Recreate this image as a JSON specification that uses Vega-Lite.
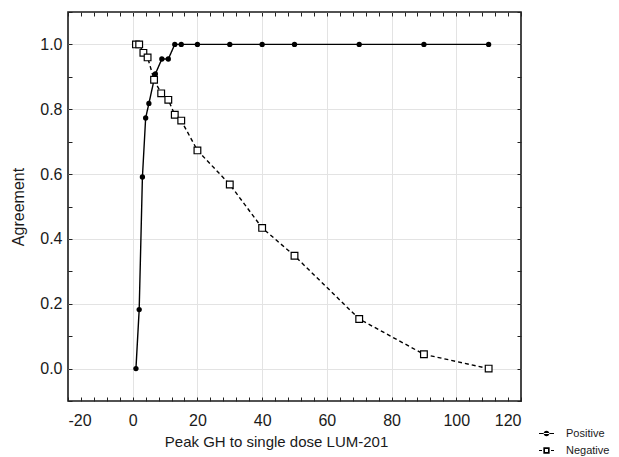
{
  "$schema": "https://vega.github.io/schema/vega-lite/v6.json",
  "width": 453,
  "height": 389,
  "autosize": {"type": "none"},
  "padding": {"left": 68, "top": 12, "right": 98, "bottom": 56},
  "background": "white",
  "data": {
    "values": [
      {"series": "Positive", "x": 1, "y": 0.0},
      {"series": "Positive", "x": 2, "y": 0.182},
      {"series": "Positive", "x": 3, "y": 0.591},
      {"series": "Positive", "x": 4, "y": 0.773},
      {"series": "Positive", "x": 5, "y": 0.818},
      {"series": "Positive", "x": 7, "y": 0.909},
      {"series": "Positive", "x": 9, "y": 0.955},
      {"series": "Positive", "x": 11, "y": 0.955},
      {"series": "Positive", "x": 13, "y": 1.0},
      {"series": "Positive", "x": 15, "y": 1.0},
      {"series": "Positive", "x": 20, "y": 1.0},
      {"series": "Positive", "x": 30, "y": 1.0},
      {"series": "Positive", "x": 40, "y": 1.0},
      {"series": "Positive", "x": 50, "y": 1.0},
      {"series": "Positive", "x": 70, "y": 1.0},
      {"series": "Positive", "x": 90, "y": 1.0},
      {"series": "Positive", "x": 110, "y": 1.0},
      {"series": "Negative", "x": 1, "y": 1.0},
      {"series": "Negative", "x": 2, "y": 1.0},
      {"series": "Negative", "x": 3.3, "y": 0.974},
      {"series": "Negative", "x": 4.6, "y": 0.96},
      {"series": "Negative", "x": 6.6, "y": 0.891},
      {"series": "Negative", "x": 8.8, "y": 0.849},
      {"series": "Negative", "x": 11, "y": 0.829},
      {"series": "Negative", "x": 13, "y": 0.783},
      {"series": "Negative", "x": 15, "y": 0.765},
      {"series": "Negative", "x": 20, "y": 0.673},
      {"series": "Negative", "x": 30, "y": 0.568},
      {"series": "Negative", "x": 40, "y": 0.434},
      {"series": "Negative", "x": 50, "y": 0.348},
      {"series": "Negative", "x": 70, "y": 0.153},
      {"series": "Negative", "x": 90, "y": 0.044},
      {"series": "Negative", "x": 110, "y": 0.0}
    ]
  },
  "resolve": {"axis": {"x": "independent", "y": "independent"}},
  "layer": [
    {
      "mark": {"type": "line", "color": "black", "strokeWidth": 1.4},
      "encoding": {
        "x": {
          "field": "x",
          "type": "quantitative",
          "scale": {"domain": [-20, 120], "nice": false, "zero": false},
          "axis": {
            "orient": "bottom",
            "offset": -4,
            "title": "Peak GH to single dose LUM-201",
            "titleFontSize": 15,
            "titleX": 208,
            "titleY": 49,
            "titleBaseline": "alphabetic",
            "values": [-20, -16, -12, -8, -4, 0, 4, 8, 12, 16, 20, 24, 28, 32, 36, 40, 44, 48, 52, 56, 60, 64, 68, 72, 76, 80, 84, 88, 92, 96, 100, 104, 108, 112, 116, 120],
            "labelExpr": "datum.value % 20 === 0 ? '' + datum.value : ''",
            "labelPadding": 11,
            "gridOpacity": {"condition": {"test": "datum.value % 20 === 0 && datum.value > -20 && datum.value < 120", "value": 1}, "value": 0}
          }
        },
        "y": {
          "field": "y",
          "type": "quantitative",
          "scale": {"domain": [-0.1, 1.1], "nice": false, "zero": false},
          "axis": {
            "orient": "left",
            "offset": -4,
            "title": "Agreement",
            "titleFontSize": 16,
            "titleX": -54,
            "titleBaseline": "middle",
            "values": [-0.1, 0, 0.1, 0.2, 0.3, 0.4, 0.5, 0.6, 0.7, 0.8, 0.9, 1.0, 1.1],
            "labelExpr": "abs(datum.value * 5 - round(datum.value * 5)) < 0.001 ? format(datum.value, '.1f') : ''",
            "labelPadding": 6,
            "gridOpacity": {"condition": {"test": "abs(datum.value * 5 - round(datum.value * 5)) < 0.001 && datum.value > -0.05 && datum.value < 1.05", "value": 1}, "value": 0}
          }
        },
        "detail": {"field": "series"},
        "strokeDash": {
          "field": "series",
          "type": "nominal",
          "scale": {"domain": ["Positive", "Negative"], "range": [[1, 0], [4, 3]]},
          "legend": {
            "orient": "none",
            "legendX": 471,
            "legendY": 414,
            "title": null,
            "symbolSize": 225,
            "symbolType": {"expr": "datum.value === 'Positive' ? 'M-1,-0.08L1,-0.08L1,0.08L-1,0.08Z M-0.38,0A0.38,0.38,0,1,0,0.38,0A0.38,0.38,0,1,0,-0.38,0Z' : 'M-1,-0.08L-0.6,-0.08L-0.6,0.08L-1,0.08Z M0.6,-0.08L1,-0.08L1,0.08L0.6,0.08Z M-0.42,-0.42L0.42,-0.42L0.42,0.42L-0.42,0.42Z M-0.2,-0.2L-0.2,0.2L0.2,0.2L0.2,-0.2Z'"},
            "symbolFillColor": "black",
            "symbolStrokeColor": "transparent",
            "symbolStrokeWidth": 0,
            "labelFontSize": 11,
            "labelOffset": 12,
            "rowPadding": 4,
            "padding": 0
          }
        }
      }
    },
    {
      "transform": [{"filter": "datum.series === 'Positive'"}],
      "mark": {"type": "point", "shape": "circle", "filled": true, "color": "black", "size": 28, "opacity": 1},
      "encoding": {
        "x": {
          "field": "x",
          "type": "quantitative",
          "axis": {
            "orient": "top",
            "offset": -4,
            "title": null,
            "labels": false,
            "grid": false,
            "values": [-20, -16, -12, -8, -4, 0, 4, 8, 12, 16, 20, 24, 28, 32, 36, 40, 44, 48, 52, 56, 60, 64, 68, 72, 76, 80, 84, 88, 92, 96, 100, 104, 108, 112, 116, 120]
          }
        },
        "y": {
          "field": "y",
          "type": "quantitative",
          "axis": {
            "orient": "right",
            "offset": -4,
            "title": null,
            "labels": false,
            "grid": false,
            "values": [-0.1, 0, 0.1, 0.2, 0.3, 0.4, 0.5, 0.6, 0.7, 0.8, 0.9, 1.0, 1.1]
          }
        }
      }
    },
    {
      "transform": [{"filter": "datum.series === 'Negative'"}],
      "mark": {"type": "point", "shape": "square", "filled": true, "fill": "white", "stroke": "black", "strokeWidth": 1.2, "size": 45, "opacity": 1},
      "encoding": {
        "x": {"field": "x", "type": "quantitative", "axis": null},
        "y": {"field": "y", "type": "quantitative", "axis": null}
      }
    }
  ],
  "config": {
    "font": "Liberation Sans",
    "view": {"stroke": "#1a1a1a", "strokeWidth": 1.6},
    "axis": {
      "domain": false,
      "ticks": true,
      "tickSize": 4,
      "tickColor": "#222",
      "tickWidth": 1,
      "grid": true,
      "gridColor": "#e3e3e3",
      "gridWidth": 1,
      "labelFont": "Liberation Sans",
      "labelFontSize": 16,
      "labelColor": "#1a1a1a",
      "titleFont": "Liberation Sans",
      "titleFontWeight": "normal",
      "titleColor": "#1a1a1a"
    },
    "legend": {
      "labelFont": "Liberation Sans",
      "labelColor": "#1a1a1a"
    }
  }
}
